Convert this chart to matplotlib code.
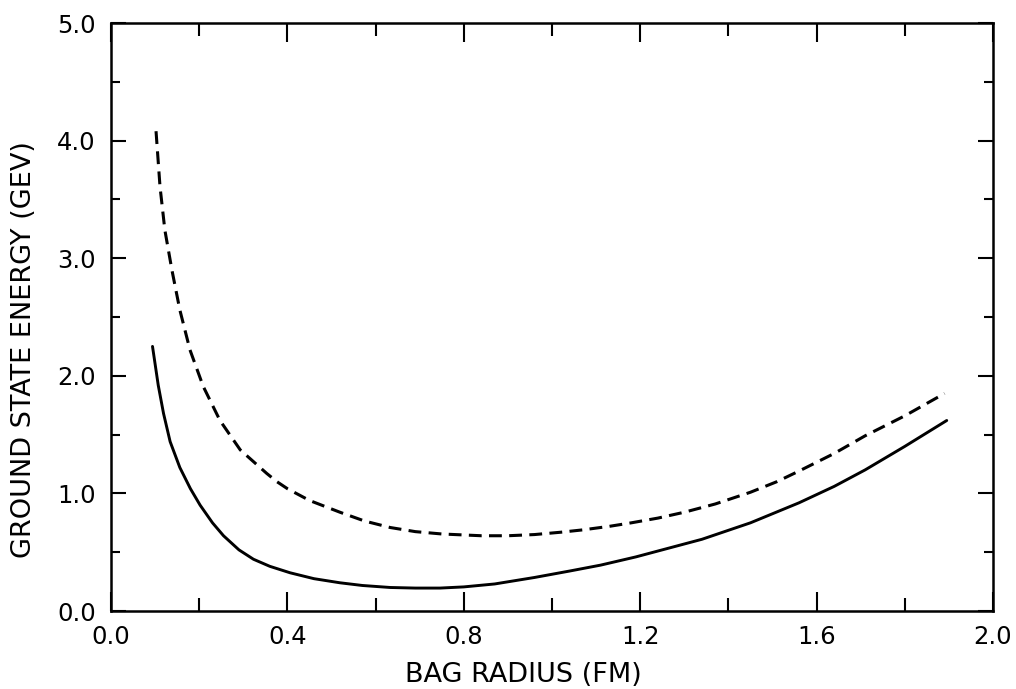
import matplotlib.pyplot as plt
from matplotlib.ticker import MultipleLocator

# values
solid_r = [0.094, 0.107, 0.119, 0.134, 0.156, 0.18, 0.202, 0.23, 0.255, 0.29,
           0.323, 0.36, 0.406, 0.46, 0.519, 0.57, 0.633, 0.69, 0.746, 0.80,
           0.87, 0.96, 1.04, 1.11, 1.19, 1.26, 1.34, 1.45, 1.56, 1.64, 1.71,
           1.80, 1.895]
solid_e = [2.25, 1.92, 1.68, 1.44, 1.22, 1.04, 0.90, 0.75, 0.64, 0.52,
           0.44, 0.38, 0.325, 0.275, 0.24, 0.217, 0.20, 0.195, 0.195, 0.205,
           0.23, 0.285, 0.34, 0.39, 0.46, 0.53, 0.61, 0.75, 0.92, 1.06, 1.20,
           1.40, 1.62]

dashed_r = [0.102, 0.111, 0.122, 0.138, 0.156, 0.179, 0.209, 0.247, 0.293,
            0.353, 0.376, 0.40, 0.45, 0.519, 0.575, 0.633, 0.69, 0.75, 0.84,
            0.90, 0.96, 1.02, 1.07, 1.13, 1.18, 1.24, 1.30, 1.37, 1.45, 1.51,
            1.56, 1.64, 1.71, 1.80, 1.89]
dashed_e = [4.08, 3.61, 3.24, 2.90, 2.56, 2.22, 1.91, 1.62, 1.37,
            1.17, 1.10, 1.04, 0.94, 0.84, 0.765, 0.71, 0.675, 0.655, 0.64,
            0.64, 0.65, 0.67, 0.69, 0.72, 0.75, 0.79, 0.84, 0.91, 1.01, 1.10,
            1.19, 1.34, 1.49, 1.66, 1.85]

x_ticks = [0.0, 0.4, 0.8, 1.2, 1.6, 2.0]
y_ticks = [0.0, 1.0, 2.0, 3.0, 4.0, 5.0]

plt.rcParams['font.family'] = ['DejaVu Sans']

fig = plt.figure(figsize=(10.16, 6.89), dpi=100)
ax = fig.add_axes([0.1093, 0.1132, 0.8681, 0.8534])

ax.plot(solid_r, solid_e, color='black', lw=2.1, solid_capstyle='round')
ax.plot(dashed_r, dashed_e, color='black', lw=2.2, dashes=(4.2, 2.4))

ax.set_xlim(0, 2.0)
ax.set_ylim(0, 5.0)
ax.set_xticks(x_ticks)
ax.set_yticks(y_ticks)
ax.set_xticklabels(['%.1f' % v for v in x_ticks])
ax.set_yticklabels(['%.1f' % v for v in y_ticks])
ax.xaxis.set_minor_locator(MultipleLocator(0.2))
ax.yaxis.set_minor_locator(MultipleLocator(0.5))

ax.tick_params(which='both', direction='in', top=True, right=True,
               width=1.5, labelsize=17.5)
ax.tick_params(axis='x', which='major', length=14, pad=10)
ax.tick_params(axis='x', which='minor', length=9.5)
ax.tick_params(axis='y', which='major', length=11, pad=11)
ax.tick_params(axis='y', which='minor', length=6.5)

for s in ax.spines.values():
    s.set_linewidth(1.8)

ax.set_xlabel('BAG RADIUS (FM)', fontsize=19.5)
ax.set_ylabel('GROUND STATE ENERGY (GEV)', fontsize=19.5)
ax.xaxis.set_label_coords(0.467, -0.0867)
ax.yaxis.set_label_coords(-0.084, 0.444)

fig.savefig('out.png', dpi=100)
